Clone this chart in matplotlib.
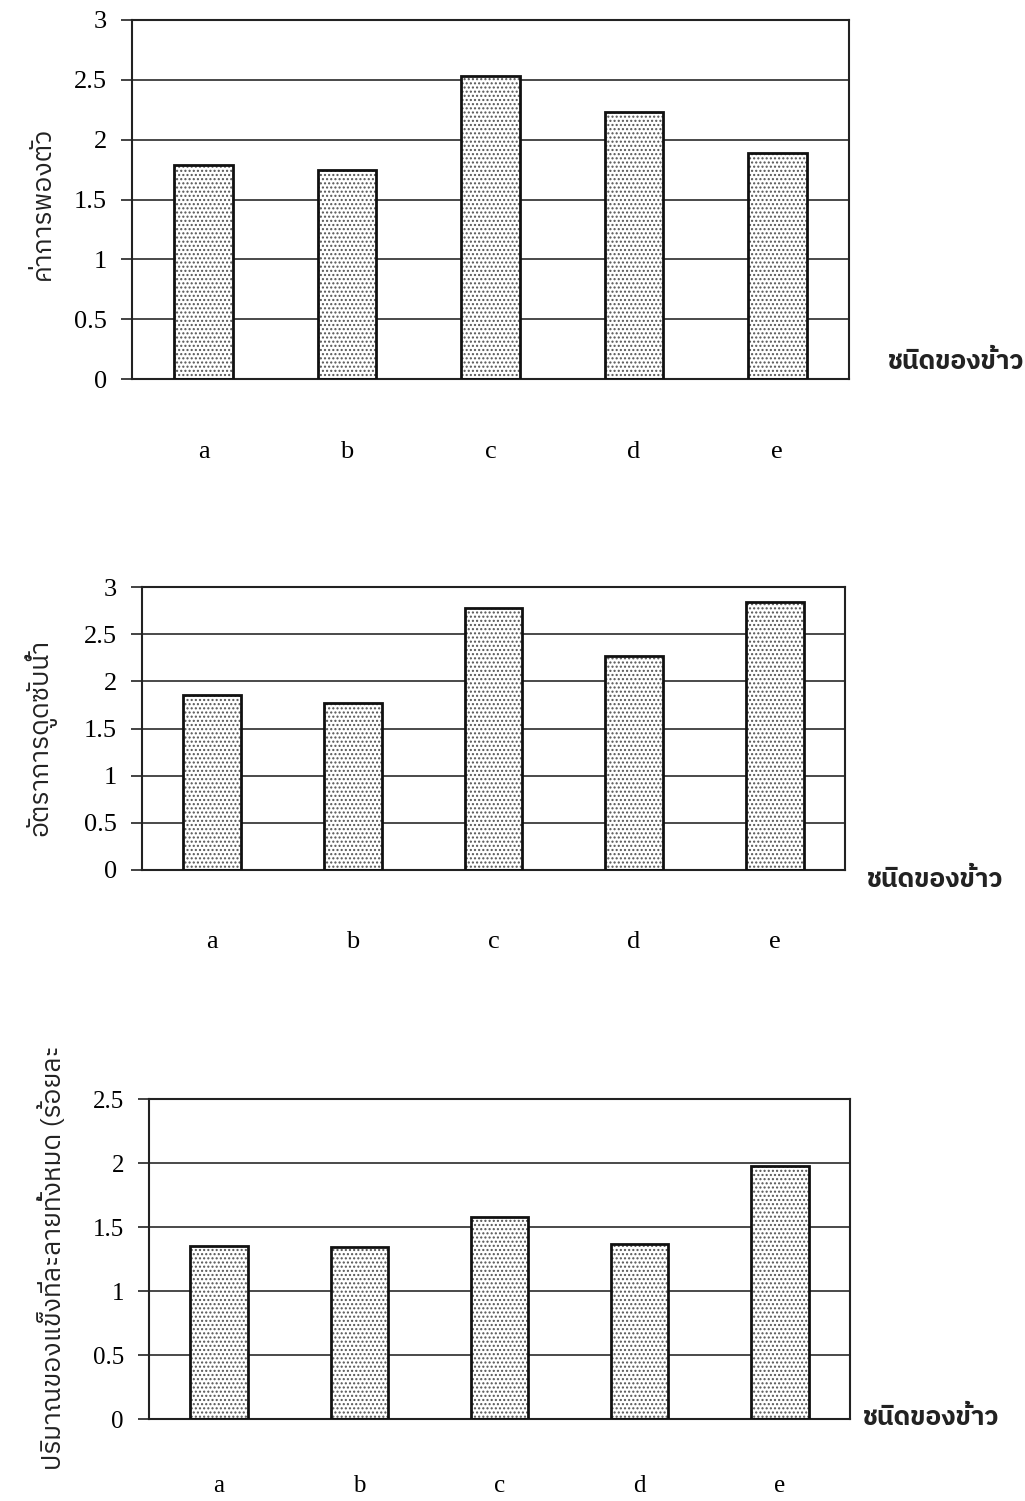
import matplotlib
matplotlib.use("Agg")
import matplotlib.pyplot as plt
from matplotlib import font_manager
import numpy as np

# ---- data ----
categories = ["a", "b", "c", "d", "e"]
swelling = [1.79, 1.75, 2.53, 2.23, 1.89]
absorption = [1.85, 1.77, 2.78, 2.27, 2.84]
solids = [1.35, 1.34, 1.58, 1.37, 1.98]

ylabels = ["ค่าการพองตัว", "อัตราการดูดซับน้ำ", "ปริมาณของแข็งที่ละลายทั้งหมด (ร้อยละ"]
xlabel = "ชนิดของข้าว"
yticks1 = [0, 0.5, 1, 1.5, 2, 2.5, 3]
yticks3 = [0, 0.5, 1, 1.5, 2, 2.5]


def find_thai_font():
    """Return the name of an installed family that covers Thai script."""
    try:
        from fontTools.ttLib import TTFont
    except Exception:
        return None
    preferred = []
    others = []
    for fe in font_manager.fontManager.ttflist:
        try:
            tt = TTFont(fe.fname, fontNumber=0, lazy=True)
            cmap = tt.getBestCmap() or {}
            if 0x0E0A in cmap and 0x0E49 in cmap:
                if "Thai" in fe.name:
                    preferred.append(fe.name)
                else:
                    others.append(fe.name)
        except Exception:
            continue
    for lst in (preferred, others):
        if lst:
            return lst[0]
    return None


thai = find_thai_font()
thai_family = [thai, "DejaVu Sans"] if thai else ["DejaVu Sans"]
serif = "Liberation Serif"

plt.rcParams["hatch.linewidth"] = 1.0
plt.rcParams["hatch.color"] = "#444444"

fig = plt.figure(figsize=(10.25, 15.01), dpi=100)

panels = [
    dict(rect=(132, 20, 849, 379), vals=swelling, ylim=3, ticks=yticks1,
         ylab_xy=(42, 203), xlab_xy=(956, 362), tsize=19, xpad=45),
    dict(rect=(142, 587, 845, 870), vals=absorption, ylim=3, ticks=yticks1,
         ylab_xy=(40, 737), xlab_xy=(935, 880), tsize=19, xpad=44),
    dict(rect=(149, 1099, 850, 1419), vals=solids, ylim=2.5, ticks=yticks3,
         ylab_xy=(52, 1258), xlab_xy=(931, 1418), tsize=18, xpad=40),
]

W, H = 1025.0, 1501.0
x = np.arange(len(categories))

for i, p in enumerate(panels):
    l, t, r, b = p["rect"]
    ax = fig.add_axes([l / W, 1 - b / H, (r - l) / W, (b - t) / H])
    ax.set_xlim(-0.5, len(categories) - 0.5)
    ax.set_ylim(0, p["ylim"])
    ax.set_yticks(p["ticks"])
    ax.set_yticklabels([f"{v:g}" for v in p["ticks"]], fontfamily=serif,
                       fontsize=p["tsize"])
    ax.set_xticks(x)
    ax.set_xticklabels(categories, fontfamily=serif, fontsize=p["tsize"])
    ax.tick_params(axis="y", direction="out", length=8, width=1.2, pad=10,
                   color="#222222")
    ax.tick_params(axis="x", length=0, pad=p["xpad"])
    ax.yaxis.grid(True, color="#3a3a3a", linewidth=1.3)
    ax.set_axisbelow(True)
    for s in ax.spines.values():
        s.set_color("#222222")
        s.set_linewidth(1.5)

    # dotted fill, then a solid outline on top
    ax.bar(x, p["vals"], width=0.41, color="white", hatch="....",
           edgecolor="#555555", linewidth=0, zorder=2)
    ax.bar(x, p["vals"], width=0.41, fill=False, edgecolor="#111111",
           linewidth=2.0, zorder=3)

    yx, yy = p["ylab_xy"]
    fig.text(yx / W, 1 - yy / H, ylabels[i], rotation=90, ha="center", va="center",
             fontsize=19, family=thai_family, color="#222222")
    xx, xy = p["xlab_xy"]
    fig.text(xx / W, 1 - xy / H, xlabel, ha="center", va="center",
             fontsize=19, family=thai_family, fontweight="bold", color="#222222")

fig.savefig("out.png", dpi=100, facecolor="white")
